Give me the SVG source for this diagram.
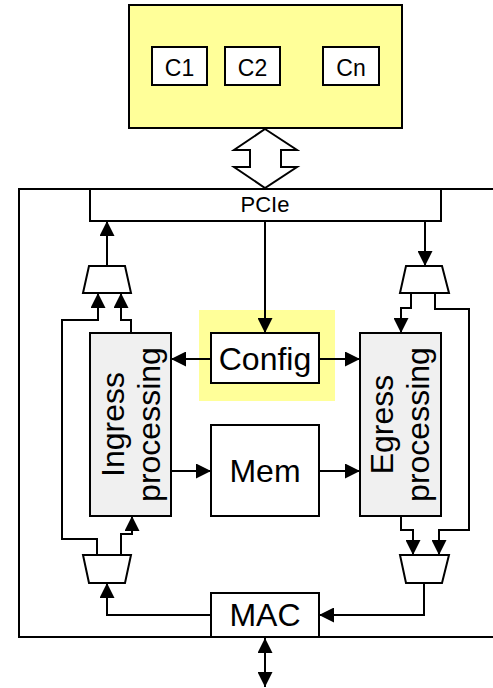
<svg xmlns="http://www.w3.org/2000/svg" width="493" height="688" viewBox="0 0 493 688">
<style>
.box{fill:#fff;stroke:#000;stroke-width:2}
.gray{fill:#f0f0f0;stroke:#000;stroke-width:2}
.yel{fill:#ffff99;stroke:#000;stroke-width:2}
.hl{fill:#ffff99;stroke:none}
.mux{fill:#fff;stroke:#000;stroke-width:2}
.t{font-family:"Liberation Sans",Arial,sans-serif;fill:#000;text-anchor:middle}
.big{font-size:32px}
.sm{font-size:22px}
.cs{font-size:23px}
#conn path{fill:none;stroke:#000;stroke-width:2}
</style>
<defs>
<marker id="ah" markerUnits="userSpaceOnUse" markerWidth="15" markerHeight="15" refX="15" refY="7.5" orient="auto-start-reverse" viewBox="0 0 15 15">
<path d="M0,0 L15,7.5 L0,15 z" fill="#000"/>
</marker>
</defs>
<rect x="0" y="0" width="493" height="688" fill="#fff"/>
<g id="host">
<rect class="yel" x="129" y="5" width="273" height="123"/>
</g>
<g id="c1"><rect class="box" x="152" y="47" width="55" height="38"/><text class="t cs" x="179.5" y="76">C1</text></g>
<g id="c2"><rect class="box" x="225" y="47" width="55" height="38"/><text class="t cs" x="252.5" y="76">C2</text></g>
<g id="cn"><rect class="box" x="323" y="47" width="56" height="38"/><text class="t cs" x="351" y="76">Cn</text></g>
<g id="bus"><polygon points="265,129 297,150 281,150 281,167 297,167 265,188 234,167 250,167 250,150 234,150" fill="#fff" stroke="#000" stroke-width="2"/></g>
<g id="nic"><rect x="19" y="189" width="490" height="448" fill="none" stroke="#000" stroke-width="2"/></g>
<g id="confighl"><rect class="hl" x="199" y="310" width="136" height="91"/></g>
<g id="pcie"><rect class="box" x="90" y="189" width="351" height="32"/><text class="t sm" x="265" y="212">PCIe</text></g>
<g id="config"><rect class="box" x="211" y="333" width="108" height="50"/><text class="t big" x="265" y="370">Config</text></g>
<g id="mem"><rect class="box" x="211" y="425" width="108" height="91"/><text class="t big" x="265" y="482">Mem</text></g>
<g id="mac"><rect class="box" x="211" y="593" width="108" height="44"/><text class="t big" x="265" y="626">MAC</text></g>
<g id="ingress"><rect class="gray" x="90" y="333" width="81" height="183"/>
<text class="t big" transform="translate(124,424.5) rotate(-90)">Ingress</text>
<text class="t big" transform="translate(160,424.5) rotate(-90)">processing</text></g>
<g id="egress"><rect class="gray" x="360" y="333" width="81" height="183"/>
<text class="t big" transform="translate(393,424.5) rotate(-90)">Egress</text>
<text class="t big" transform="translate(429,424.5) rotate(-90)">processing</text></g>
<g id="mux-tl"><polygon class="mux" points="89,266 125,266 131,293 83,293"/></g>
<g id="mux-bl"><polygon class="mux" points="83,555 131,555 125,583 89,583"/></g>
<g id="mux-tr"><polygon class="mux" points="406,266 442,266 449,293 400,293"/></g>
<g id="mux-br"><polygon class="mux" points="400,555 449,555 442,583 406,583"/></g>
<g id="conn">
<path d="M107,266 V221" marker-end="url(#ah)"/>
<path d="M97,555 V539 H62 V320 H98 V293" marker-end="url(#ah)"/>
<path d="M131,333 V320 H121 V293" marker-end="url(#ah)"/>
<path d="M121,555 V534 H132 V516" marker-end="url(#ah)"/>
<path d="M211,615 H107 V583" marker-end="url(#ah)"/>
<path d="M265,221 V333" marker-end="url(#ah)"/>
<path d="M211,359 H171" marker-end="url(#ah)"/>
<path d="M319,359 H360" marker-end="url(#ah)"/>
<path d="M171,471 H211" marker-end="url(#ah)"/>
<path d="M319,471 H360" marker-end="url(#ah)"/>
<path d="M425,221 V266" marker-end="url(#ah)"/>
<path d="M411,293 V308 H401 V333" marker-end="url(#ah)"/>
<path d="M435,293 V309 H469 V530 H439 V555" marker-end="url(#ah)"/>
<path d="M401,516 V530 H413 V555" marker-end="url(#ah)"/>
<path d="M424,583 V615 H319" marker-end="url(#ah)"/>
<path d="M265,638 V687" marker-start="url(#ah)" marker-end="url(#ah)"/>
</g>
</svg>
